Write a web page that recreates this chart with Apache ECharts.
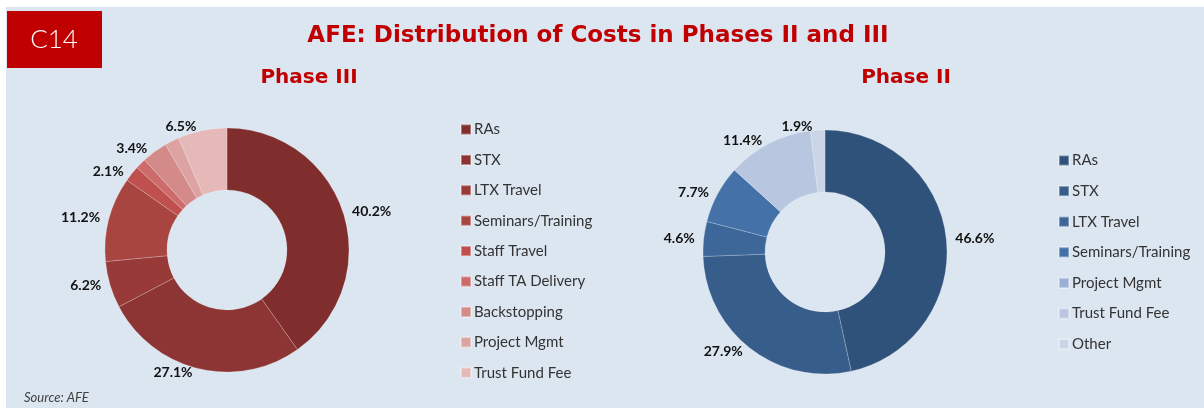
<!DOCTYPE html>
<html lang="en">
<head>
  <meta charset="utf-8">
  <title>AFE: Distribution of Costs in Phases II and III</title>
  <script src="https://cdn.jsdelivr.net/npm/echarts@6/dist/echarts.min.js"></script>
  <style type="text/css">
    html, body { margin: 0; padding: 0; background: #fff; }
    #chart { width: 1204px; height: 409px; }
  </style>
</head>
<body>
<div id="chart"></div>
<script type="text/javascript">
  // Phase III
  var phase3Names = ['RAs', 'STX', 'LTX Travel', 'Seminars/Training', 'Staff Travel',
    'Staff TA Delivery', 'Backstopping', 'Project Mgmt', 'Trust Fund Fee'];
  var phase3Values = [40.2, 27.1, 6.2, 11.2, 2.1, 1.4, 3.4, 1.9, 6.5];
  var phase3Colors = ['#7f2d2d', '#8d3534', '#983b38', '#a84541', '#c0504d',
    '#cc6b69', '#d48a88', '#dca3a2', '#e5b9b8'];

  // Phase II (Project Mgmt has no visible slice)
  var phase2Names = ['RAs', 'STX', 'LTX Travel', 'Seminars/Training', 'Project Mgmt',
    'Trust Fund Fee', 'Other'];
  var phase2Values = [46.6, 27.9, 4.6, 7.7, 0, 11.4, 1.9];
  var phase2Colors = ['#2f527a', '#375d8b', '#3d6699', '#4472a8', '#9aafd5',
    '#b9c6df', '#cbd5e8'];

  var font = 'Lato, "Open Sans", sans-serif';
  var headFont = '"DejaVu Sans", Arial, sans-serif';

  function pieData(names, values, colors) {
    return names.map(function (n, i) {
      var d = { name: n, value: values[i], itemStyle: { color: colors[i] } };
      if (!values[i]) d.label = { show: false };
      return d;
    });
  }

  function legendData(names, colors) {
    return names.map(function (n, i) {
      return { name: n, itemStyle: { color: colors[i] } };
    });
  }

  function pieSeries(name, center, data) {
    return {
      name: name,
      type: 'pie',
      center: center,
      radius: [60, 122],
      startAngle: 90,
      avoidLabelOverlap: false,
      itemStyle: { borderColor: 'rgba(255,255,255,0.35)', borderWidth: 0.6 },
      label: {
        position: 'outside',
        formatter: function (p) { return p.value.toFixed(1) + '%'; },
        color: '#111',
        fontFamily: font,
        fontWeight: 'bold',
        fontSize: 14
      },
      labelLine: { show: false, length: 4, length2: 0 },
      emphasis: { scale: false },
      data: data
    };
  }

  var chart = echarts.init(document.getElementById('chart'));

  var option = {
    animation: false,
    graphic: [
      { type: 'rect', shape: { x: 6, y: 7, width: 1198, height: 401 }, style: { fill: '#dce6f1' }, z: -10 },
      { type: 'rect', shape: { x: 7, y: 11, width: 95, height: 57 }, style: { fill: '#c00000' } },
      { type: 'text', x: 54, y: 40, style: { text: 'C14', fill: '#fff', font: '300 26px Lato, "Open Sans", sans-serif', align: 'center', verticalAlign: 'middle' } }
    ],
    title: [
      { text: 'AFE: Distribution of Costs in Phases II and III', left: 593, top: 20, textAlign: 'center',
        textStyle: { color: '#c00000', fontFamily: headFont, fontWeight: 'bold', fontSize: 23 } },
      { text: 'Phase III', left: 304, top: 63, textAlign: 'center',
        textStyle: { color: '#c00000', fontFamily: headFont, fontWeight: 'bold', fontSize: 20 } },
      { text: 'Phase II', left: 901, top: 63, textAlign: 'center',
        textStyle: { color: '#c00000', fontFamily: headFont, fontWeight: 'bold', fontSize: 20 } },
      { text: 'Source: AFE', left: 19, top: 386,
        textStyle: { color: '#404040', fontFamily: font, fontStyle: 'italic', fontWeight: 'normal', fontSize: 13 } }
    ],
    legend: [
      {
        orient: 'vertical', left: 455, top: 117, itemWidth: 10, itemHeight: 10, itemGap: 15.4,
        icon: 'rect', selectedMode: false,
        textStyle: { color: '#333', fontFamily: font, fontSize: 15, padding: [0, 0, 0, -2] },
        data: legendData(phase3Names, phase3Colors)
      },
      {
        orient: 'vertical', left: 1053, top: 148, itemWidth: 10, itemHeight: 10, itemGap: 15.6,
        icon: 'rect', selectedMode: false,
        textStyle: { color: '#333', fontFamily: font, fontSize: 15, padding: [0, 0, 0, -2] },
        data: legendData(phase2Names, phase2Colors)
      }
    ],
    series: [
      pieSeries('Phase III', [227, 250], pieData(phase3Names, phase3Values, phase3Colors)),
      pieSeries('Phase II', [825, 252], pieData(phase2Names, phase2Values, phase2Colors))
    ]
  };

  chart.setOption(option);
</script>
</body>
</html>
